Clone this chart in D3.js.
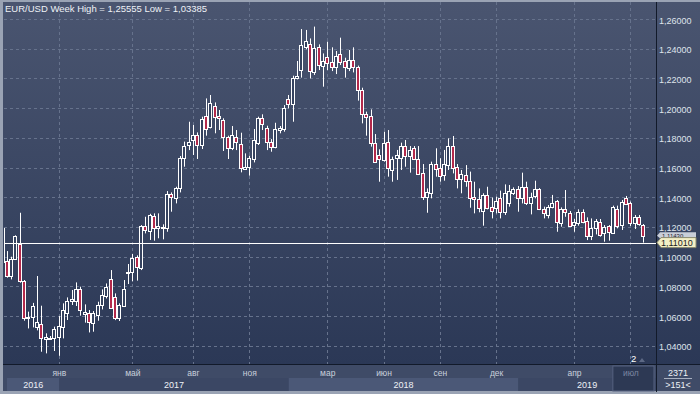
<!DOCTYPE html>
<html>
<head>
<meta charset="utf-8">
<script src="https://cdnjs.cloudflare.com/ajax/libs/d3/7.8.5/d3.min.js"></script>
<style>
  html, body { margin: 0; padding: 0; background: #2b3550; }
  svg { display: block; font-family: 'Liberation Sans', Arial, sans-serif; }
</style>
</head>
<body>
<div id="chart"></div>
<script>
// weekly EUR/USD candles, Oct 2016 .. Jul 2019
var opens = [
  1.1201, 1.0977, 1.0878, 1.0990, 1.1091, 1.0844, 1.0591, 1.0598, 1.0535, 1.0550,
  1.0452, 1.0457, 1.0461, 1.0467, 1.0535, 1.0629, 1.0707, 1.0707, 1.0788, 1.0620,
  1.0624, 1.0562, 1.0613, 1.0681, 1.0741, 1.0853, 1.0737, 1.0591, 1.0674, 1.0894,
  1.0905, 1.1002, 1.0928, 1.1215, 1.1181, 1.1280, 1.1197, 1.1205, 1.1197, 1.1426,
  1.1403, 1.1471, 1.1668, 1.1758, 1.1792, 1.1825, 1.1758, 1.1953, 1.1882, 1.2023,
  1.1956, 1.1927, 1.1810, 1.1740, 1.1810, 1.1763, 1.1594, 1.1612, 1.1664, 1.1770,
  1.1938, 1.1870, 1.1776, 1.1747, 1.1859, 1.1866, 1.2068, 1.2032, 1.2207, 1.2263,
  1.2416, 1.2436, 1.2252, 1.2416, 1.2292, 1.2349, 1.2315, 1.2286, 1.2371, 1.2324,
  1.2275, 1.2331, 1.2286, 1.2129, 1.1967, 1.1954, 1.1769, 1.1691, 1.1657, 1.1781,
  1.1590, 1.1673, 1.1673, 1.1751, 1.1686, 1.1736, 1.1664, 1.1567, 1.1410, 1.1433,
  1.1630, 1.1601, 1.1556, 1.1623, 1.1751, 1.1608, 1.1527, 1.1556, 1.1516, 1.1410,
  1.1392, 1.1314, 1.1421, 1.1343, 1.1336, 1.1399, 1.1305, 1.1370, 1.1437, 1.1460,
  1.1404, 1.1473, 1.1365, 1.1415, 1.1462, 1.1325, 1.1287, 1.1338, 1.1381, 1.1231,
  1.1327, 1.1298, 1.1219, 1.1231, 1.1309, 1.1249, 1.1145, 1.1197, 1.1242, 1.1163,
  1.1213, 1.1168, 1.1330, 1.1219, 1.1399, 1.1365, 1.1231, 1.1271, 1.1219
];
var highs = [
  1.1215, 1.1044, 1.1006, 1.1150, 1.1302, 1.0849, 1.0636, 1.0695, 1.0876, 1.0676,
  1.0490, 1.0472, 1.0535, 1.0606, 1.0692, 1.0732, 1.0782, 1.0833, 1.0804, 1.0685,
  1.0647, 1.0640, 1.0703, 1.0786, 1.0826, 1.0916, 1.0759, 1.0692, 1.0849, 1.0957,
  1.1025, 1.1015, 1.1219, 1.1275, 1.1295, 1.1298, 1.1298, 1.1224, 1.1448, 1.1439,
  1.1477, 1.1684, 1.1781, 1.1915, 1.1893, 1.1843, 1.1949, 1.2072, 1.2095, 1.2045,
  1.1994, 1.1938, 1.1821, 1.1886, 1.1859, 1.1841, 1.1702, 1.1686, 1.1866, 1.1949,
  1.1965, 1.1888, 1.1798, 1.1908, 1.1886, 1.2027, 1.2095, 1.2225, 1.2324, 1.2539,
  1.2533, 1.2476, 1.25555, 1.2436, 1.2375, 1.2454, 1.2416, 1.2391, 1.2481, 1.2346,
  1.2398, 1.2416, 1.2293, 1.2144, 1.1983, 1.1998, 1.1832, 1.1729, 1.1848, 1.1859,
  1.1680, 1.1725, 1.1774, 1.1792, 1.1751, 1.1751, 1.1751, 1.1630, 1.1466, 1.1646,
  1.1736, 1.1669, 1.1725, 1.1803, 1.1819, 1.1630, 1.1590, 1.1623, 1.1579, 1.1511,
  1.1466, 1.1433, 1.1477, 1.1404, 1.1410, 1.1451, 1.1493, 1.1489, 1.1473, 1.1482,
  1.1572, 1.1511, 1.1437, 1.1518, 1.1468, 1.1343, 1.1354, 1.1422, 1.1388, 1.1338,
  1.1455, 1.1314, 1.1260, 1.1325, 1.1325, 1.1271, 1.1264, 1.1260, 1.1260, 1.1219,
  1.1219, 1.1350, 1.1350, 1.1388, 1.1415, 1.1377, 1.1287, 1.1287, 1.1226
];
var lows = [
  1.0960, 1.0865, 1.0853, 1.0985, 1.0831, 1.0575, 1.0523, 1.0530, 1.0510, 1.0366,
  1.0355, 1.0449, 1.0371, 1.03385, 1.0456, 1.0580, 1.0681, 1.0674, 1.0609, 1.0562,
  1.0496, 1.0501, 1.0575, 1.0651, 1.0725, 1.0654, 1.0579, 1.0573, 1.0669, 1.0822,
  1.0840, 1.0845, 1.0916, 1.1163, 1.1119, 1.1114, 1.1130, 1.1123, 1.1174, 1.1309,
  1.1365, 1.1439, 1.1612, 1.1724, 1.1691, 1.1664, 1.1731, 1.1821, 1.1870, 1.1837,
  1.1859, 1.1718, 1.1664, 1.1724, 1.1724, 1.1574, 1.1590, 1.1552, 1.1641, 1.1758,
  1.1859, 1.1724, 1.1713, 1.1736, 1.1837, 1.1848, 1.2005, 1.1915, 1.2200, 1.2212,
  1.2403, 1.2207, 1.2230, 1.2263, 1.2151, 1.2263, 1.2256, 1.2236, 1.2297, 1.2212,
  1.2256, 1.2247, 1.2057, 1.1904, 1.1821, 1.1747, 1.1642, 1.1511, 1.1646, 1.1545,
  1.1511, 1.1523, 1.1590, 1.1612, 1.1572, 1.1657, 1.1556, 1.1388, 1.1302, 1.1399,
  1.1545, 1.1511, 1.1518, 1.1590, 1.1567, 1.1466, 1.1433, 1.1477, 1.1336, 1.1298,
  1.1305, 1.1215, 1.1325, 1.1264, 1.1298, 1.1264, 1.1287, 1.1343, 1.1422, 1.1309,
  1.1365, 1.1354, 1.1291, 1.1399, 1.1320, 1.1264, 1.1264, 1.1332, 1.1174, 1.1208,
  1.1275, 1.1208, 1.1174, 1.1215, 1.1231, 1.1118, 1.1118, 1.1156, 1.1141, 1.1107,
  1.1114, 1.1163, 1.1197, 1.1186, 1.1354, 1.1213, 1.1193, 1.1215, 1.1101
];
var closes = [
  1.0972, 1.0878, 1.0990, 1.1145, 1.0844, 1.0591, 1.0602, 1.0674, 1.0564, 1.0456,
  1.0467, 1.0461, 1.0517, 1.0539, 1.0647, 1.0707, 1.0718, 1.0788, 1.0647, 1.0636,
  1.0564, 1.0629, 1.0681, 1.0748, 1.0804, 1.0658, 1.0591, 1.0681, 1.0788, 1.0905,
  1.1000, 1.0934, 1.1215, 1.1186, 1.1287, 1.1197, 1.1213, 1.1197, 1.1426, 1.1405,
  1.1466, 1.1668, 1.1751, 1.1776, 1.1825, 1.1758, 1.1933, 1.1864, 1.2039, 1.1949,
  1.1942, 1.1814, 1.1736, 1.1825, 1.1781, 1.1605, 1.1610, 1.1668, 1.1792, 1.1938,
  1.1897, 1.1776, 1.1747, 1.1866, 1.1875, 1.2005, 1.2032, 1.2207, 1.2223, 1.2431,
  1.2458, 1.2256, 1.2414, 1.2297, 1.2324, 1.2308, 1.2286, 1.2358, 1.2319, 1.2281,
  1.2331, 1.2286, 1.2129, 1.1965, 1.1945, 1.1769, 1.1646, 1.1662, 1.1774, 1.1605,
  1.1664, 1.1691, 1.1751, 1.1686, 1.1724, 1.1664, 1.1563, 1.1410, 1.1444, 1.1630,
  1.1597, 1.1552, 1.1630, 1.1751, 1.1605, 1.1527, 1.1561, 1.1516, 1.1403, 1.1392,
  1.1336, 1.1421, 1.1336, 1.1316, 1.1381, 1.1305, 1.1437, 1.1448, 1.1460, 1.1399,
  1.1473, 1.1365, 1.1410, 1.1462, 1.1325, 1.1298, 1.1338, 1.1365, 1.1237, 1.1327,
  1.1305, 1.1215, 1.1237, 1.1309, 1.1242, 1.1145, 1.1197, 1.1246, 1.1152, 1.1208,
  1.1174, 1.1338, 1.1213, 1.1377, 1.1361, 1.1231, 1.1275, 1.1226, 1.1143
];

var priceTicks = [1.26, 1.24, 1.22, 1.20, 1.18, 1.16, 1.14, 1.12, 1.10, 1.08, 1.06, 1.04];
// month labels sit on the first bar of the month (bar index)
var monthLabels = ['янв', 'май', 'авг', 'ноя', 'мар', 'июн', 'сен', 'дек', 'апр', 'июл'];
var monthBars   = [13, 30, 44, 57, 75, 88, 101, 114, 132, 145];
var yearLabels  = ['2016', '2017', '2018', '2019'];
var yearStarts  = [0, 13, 66, 119];

var title = 'EUR/USD Week High = 1,25555 Low = 1,03385';
var lastPrice = 1.1101, closePrice = 1.1143;
var barCount = '2371', barRange = '>151<', zoomMark = '2';

var width = 700, height = 394;
var plot = {left: 4, right: 656, top: 2, bottom: 364};

var svg = d3.select('#chart').append('svg')
  .attr('width', width)
  .attr('height', height);

var defs = svg.append('defs');
var grad = defs.append('linearGradient')
  .attr('id', 'bg').attr('x1', 0).attr('y1', 0).attr('x2', 0).attr('y2', 1);
grad.append('stop').attr('offset', '0%').attr('stop-color', '#4a5570');
grad.append('stop').attr('offset', '100%').attr('stop-color', '#2b3856');

defs.append('clipPath').attr('id', 'plotclip')
  .append('rect')
  .attr('x', plot.left).attr('y', plot.top)
  .attr('width', plot.right - plot.left).attr('height', plot.bottom - plot.top);

// frame + backgrounds
svg.append('rect').attr('width', width).attr('height', height).attr('fill', '#9aa3b4');
svg.append('rect')
  .attr('x', 3).attr('y', 2)
  .attr('width', width - 3).attr('height', plot.bottom - 2)
  .attr('fill', 'url(#bg)');

var x = d3.scaleLinear().domain([0, 148]).range([3, 643.84]);
var y = d3.scaleLinear().domain([1.04, 1.26]).range([346.7, 20]);
var fmt = function(v) { return d3.format('.5f')(v).replace('.', ','); };
var crisp = function(v) { return Math.round(v) + 0.5; };

// grid
var grid = svg.append('g').attr('class', 'grid');
grid.selectAll('line.h').data(priceTicks).enter().append('line')
  .attr('class', 'h')
  .attr('x1', plot.left).attr('x2', plot.right)
  .attr('y1', function(d) { return crisp(y(d)) - 1; })
  .attr('y2', function(d) { return crisp(y(d)) - 1; })
  .attr('stroke', '#66728c').attr('stroke-dasharray', '3,3');
grid.selectAll('line.v').data(monthBars).enter().append('line')
  .attr('class', 'v')
  .attr('x1', function(d) { return Math.floor(x(d)) + 0.5; })
  .attr('x2', function(d) { return Math.floor(x(d)) + 0.5; })
  .attr('y1', plot.top).attr('y2', plot.bottom)
  .attr('stroke', '#66728c').attr('stroke-dasharray', '3,3');

// candles
var bars = d3.range(opens.length);
var candles = svg.append('g').attr('clip-path', 'url(#plotclip)')
  .selectAll('g.candle').data(bars).enter().append('g')
  .attr('class', 'candle');

candles.append('line')
  .attr('x1', function(i) { return Math.floor(x(i)) + 0.5; })
  .attr('x2', function(i) { return Math.floor(x(i)) + 0.5; })
  .attr('y1', function(i) { return y(highs[i]); })
  .attr('y2', function(i) { return y(lows[i]); })
  .attr('stroke', '#ffffff');

candles.append('rect')
  .attr('x', function(i) { return Math.floor(x(i)) - 1.5; })
  .attr('y', function(i) { return Math.round(y(Math.max(opens[i], closes[i]))) + 0.5; })
  .attr('width', 3)
  .attr('height', function(i) {
    return Math.max(1, Math.round(y(Math.min(opens[i], closes[i]))) - Math.round(y(Math.max(opens[i], closes[i]))));
  })
  .attr('fill', function(i) { return closes[i] < opens[i] ? '#b3294b' : '#35425f'; })
  .attr('stroke', '#ffffff');

// current price line
svg.append('line')
  .attr('x1', plot.left).attr('x2', plot.right)
  .attr('y1', crisp(y(lastPrice))).attr('y2', crisp(y(lastPrice)))
  .attr('stroke', '#ffffff');

// title
svg.append('text')
  .attr('x', 5).attr('y', 12)
  .attr('font-size', '9.5px').attr('fill', '#eef1f6')
  .text(title);

// right axis
svg.append('line')
  .attr('x1', 656.5).attr('x2', 656.5).attr('y1', 2).attr('y2', 392)
  .attr('stroke', '#121a2a');
svg.selectAll('text.ytick').data(priceTicks).enter().append('text')
  .attr('class', 'ytick')
  .attr('x', 659).attr('y', function(d) { return y(d) + 3.5; })
  .attr('font-size', '9px').attr('fill', '#dfe4ec')
  .text(fmt);

// close tag: a thin sliver squeezed between the 1,12000 label and the last-price tag
var cy = y(closePrice);
svg.append('path')
  .attr('d', 'M657,' + (cy - 0.5) + ' L660,' + (cy - 4) + ' L696,' + (cy - 4) + ' L696,' + (cy + 2) + ' L660,' + (cy + 2) + ' Z')
  .attr('fill', '#c9ced8');
svg.append('text')
  .attr('x', 662).attr('y', cy + 1.5)
  .attr('font-size', '6px').attr('fill', '#1c2230')
  .text(fmt(closePrice));

// last-price tag
var ly = y(lastPrice);
svg.append('path')
  .attr('d', 'M657,' + ly + ' L661,' + (ly - 5) + ' L696,' + (ly - 5) + ' L696,' + (ly + 5) + ' L661,' + (ly + 5) + ' Z')
  .attr('fill', '#f3efc6').attr('stroke', '#8a8a70');
svg.append('text')
  .attr('x', 661).attr('y', ly + 3.5)
  .attr('font-size', '9px').attr('fill', '#1c1c1c')
  .text(fmt(lastPrice));

// zoom marker
svg.append('text')
  .attr('x', 631).attr('y', 362)
  .attr('font-size', '9.5px').attr('fill', '#ffffff')
  .text(zoomMark);
svg.append('path')
  .attr('d', 'M639,362 L642,358 L645,362 Z')
  .attr('fill', '#5d6985');

// bottom time strip
svg.append('rect')
  .attr('x', 3).attr('y', 365).attr('width', 653).attr('height', 26)
  .attr('fill', '#3f4b67');
svg.append('line')
  .attr('x1', 3).attr('x2', 700).attr('y1', 364.5).attr('y2', 364.5)
  .attr('stroke', '#121a2a');

var yearEnds = yearStarts.slice(1).concat([148]);
var yearX0 = yearStarts.map(function(s, k) { return k === 0 ? 7 : x(s); });
var yearX1 = yearEnds.map(function(e, k) { return k === yearEnds.length - 1 ? 656 : x(e); });
svg.selectAll('rect.year').data(yearLabels).enter().append('rect')
  .attr('class', 'year')
  .attr('x', function(d, k) { return yearX0[k]; })
  .attr('y', 378)
  .attr('width', function(d, k) { return yearX1[k] - yearX0[k]; })
  .attr('height', 13)
  .attr('fill', function(d, k) { return k % 2 === 0 ? '#4b5877' : '#3b4764'; });
svg.selectAll('text.year').data(yearLabels).enter().append('text')
  .attr('class', 'year')
  .attr('x', function(d, k) { return (yearX0[k] + yearX1[k]) / 2; })
  .attr('y', 387.5)
  .attr('text-anchor', 'middle')
  .attr('font-size', '9px').attr('fill', '#eef1f6')
  .text(function(d) { return d; });

// last month box
var boxX = x(145) - 18;
svg.append('rect')
  .attr('x', boxX).attr('y', 366).attr('width', 654 - boxX).attr('height', 25)
  .attr('fill', '#2d3954').attr('stroke', '#566280');

svg.selectAll('text.month').data(monthLabels).enter().append('text')
  .attr('class', 'month')
  .attr('x', function(d, k) { return x(monthBars[k]); })
  .attr('y', 375.5)
  .attr('text-anchor', 'middle')
  .attr('font-size', '8.5px')
  .attr('fill', function(d, k) { return k === monthLabels.length - 1 ? '#7b86a0' : '#c9d0dc'; })
  .text(function(d) { return d; });

// right bottom panel
svg.append('rect')
  .attr('x', 657).attr('y', 365).attr('width', 43).attr('height', 26)
  .attr('fill', '#3f4b67');
svg.append('text')
  .attr('x', 678).attr('y', 375.5).attr('text-anchor', 'middle')
  .attr('font-size', '9px').attr('fill', '#eef1f6')
  .text(barCount);
svg.append('line')
  .attr('x1', 664).attr('x2', 692).attr('y1', 378.5).attr('y2', 378.5)
  .attr('stroke', '#a8b0c0');
svg.append('text')
  .attr('x', 678).attr('y', 388).attr('text-anchor', 'middle')
  .attr('font-size', '9px').attr('fill', '#eef1f6')
  .text(barRange);
</script>
</body>
</html>
